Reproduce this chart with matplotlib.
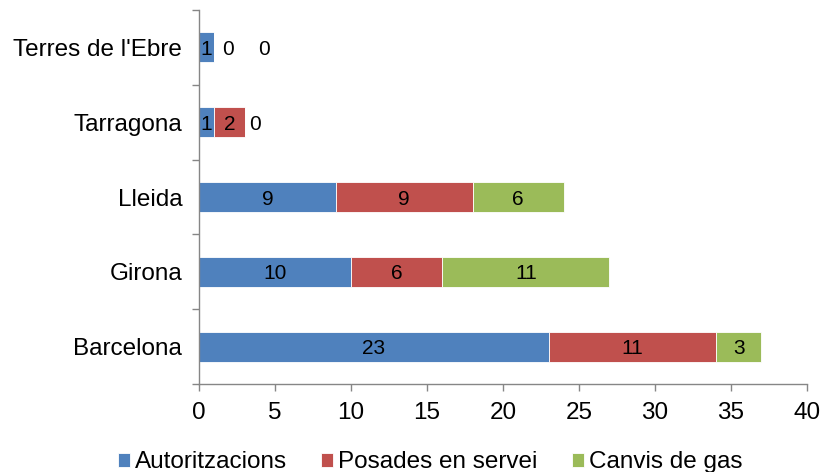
import numpy as np
import matplotlib
matplotlib.use('Agg')
import matplotlib.pyplot as plt

plt.rcParams['font.family'] = ['Liberation Sans', 'DejaVu Sans']

regions = ['Barcelona', 'Girona', 'Lleida', 'Tarragona', "Terres de l'Ebre"]
series = ['Autoritzacions', 'Posades en servei', 'Canvis de gas']
autoritz = [23, 10, 9, 1, 1]
posades = [11, 6, 9, 2, 0]
canvis = [3, 11, 6, 0, 0]
colors = ['#4F81BD', '#C0504D', '#9BBB59']

# pixel offsets for the zero labels (Excel pushes them right)
zero_off = {(3, 2): 10, (4, 1): 14, (4, 2): 50}

fig = plt.figure(figsize=(8.25, 4.72), dpi=100)
ax = fig.add_axes([0.2412, 0.1864, 0.7370, 0.7924])

y = np.arange(len(regions))
left = np.zeros(len(regions))
for s, (name, vals) in enumerate(zip(series, [autoritz, posades, canvis])):
    vals = np.array(vals, dtype=float)
    ax.barh(y, vals, 0.4, left=left, color=colors[s], edgecolor='white',
            linewidth=0.6, label=name)
    for i, v in enumerate(vals):
        if v > 0:
            ax.text(left[i] + v / 2, y[i], '%d' % v, ha='center', va='center_baseline',
                    fontsize=15, color='black')
        else:
            ax.annotate('0', (left[i], y[i]), xytext=(zero_off.get((i, s), 10) * 0.72, 0),
                        textcoords='offset points', ha='center', va='center_baseline',
                        fontsize=15, color='black')
    left += vals

ax.set_xlim(0, 40)
ax.set_ylim(-0.5, 4.5)
ax.set_xticks(np.arange(0, 41, 5))
ax.set_yticks(y)
ax.set_yticklabels(regions)
ax.set_yticks(np.arange(-0.5, 4.6, 1), minor=True)
ax.tick_params(axis='y', which='major', length=0, pad=12, labelsize=17.5)
ax.tick_params(axis='y', which='minor', length=5, color='#868686', width=1)
ax.tick_params(axis='x', length=5, color='#868686', width=1, labelsize=17.5, pad=8)
for sp in ['top', 'right']:
    ax.spines[sp].set_visible(False)
for sp in ['left', 'bottom']:
    ax.spines[sp].set_color('#868686')
    ax.spines[sp].set_linewidth(1)

ax.legend(loc='upper center', bbox_to_anchor=(0.38, -0.18), ncol=3, frameon=False,
          fontsize=17.5, handlelength=0.5, handleheight=0.5, handletextpad=0.2,
          columnspacing=1.4, borderaxespad=0, borderpad=0)

fig.savefig('out.png', dpi=100)
